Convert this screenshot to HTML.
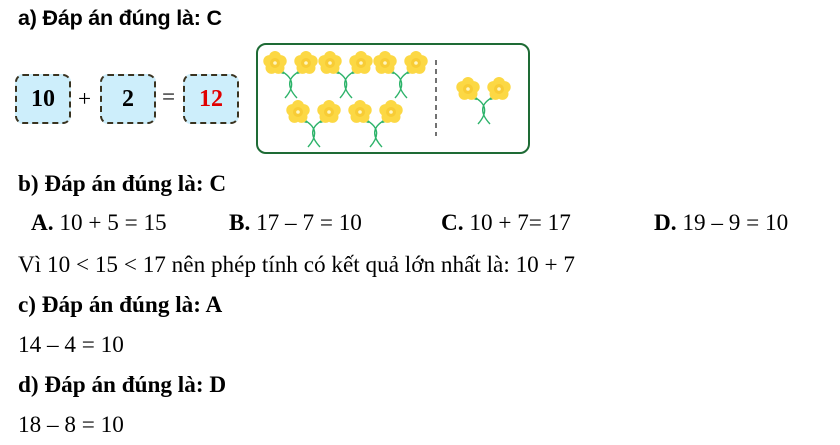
<!DOCTYPE html>
<html><head><meta charset="utf-8"><style>
body{margin:0;width:840px;height:445px;background:#fff;position:relative;overflow:hidden;font-family:"Liberation Serif",serif;font-size:23.2px;color:#000}
.t{position:absolute;white-space:nowrap;line-height:1}
.box{position:absolute;width:56px;height:50px;border:2px dashed #3a3320;border-radius:8px;background:#cdeefb;box-sizing:border-box;font-weight:bold;font-size:24px;display:flex;align-items:center;justify-content:center}
</style></head><body>
<div class="t" style="left:18px;top:8px;font-family:'Liberation Sans',sans-serif;font-weight:bold;font-size:21.5px;letter-spacing:-0.2px">a) Đáp án đúng là: C</div>
<div class="box" style="left:15px;top:74px">10</div>
<div class="t" style="left:78px;top:88px">+</div>
<div class="box" style="left:100px;top:74px">2</div>
<div class="t" style="left:162px;top:86px">=</div>
<div class="box" style="left:183px;top:74px;color:#e00000">12</div>
<svg style="position:absolute;left:0;top:0" width="840" height="445">
<defs>
<g id="fl"><circle cx="0" cy="-6" r="6" fill="#fcd844"/><circle cx="5.7" cy="-1.9" r="6" fill="#fcd844"/><circle cx="3.5" cy="4.9" r="6" fill="#fcd844"/><circle cx="-3.5" cy="4.9" r="6" fill="#fcd844"/><circle cx="-5.7" cy="-1.9" r="6" fill="#fcd844"/><circle r="5" fill="#f8cc35"/><circle r="1.8" fill="#fff6c0"/></g>
<g id="pr">
<path d="M21 23 Q40 33 25 50 M40 23 Q21 33 37 50" fill="none" stroke="#2db36a" stroke-width="1.4"/>
<path d="M24 25 l-3 -1 M37 25 l3 -1" stroke="#2db36a" stroke-width="2.5"/>
<use href="#fl" x="15" y="15"/><use href="#fl" x="46" y="15"/>
</g>
</defs>
<rect x="257" y="44" width="272" height="109" rx="9" fill="none" stroke="#1e6b35" stroke-width="2"/>
<use href="#pr" x="260" y="48"/>
<use href="#pr" x="315" y="48"/>
<use href="#pr" x="370" y="48"/>
<use href="#pr" x="283" y="97"/>
<use href="#pr" x="345" y="97"/>
<use href="#pr" x="453" y="74"/>
<line x1="436" y1="60" x2="436" y2="136" stroke="#444" stroke-width="1.5" stroke-dasharray="5,4"/>
</svg>
<div class="t" style="left:18px;top:173px;font-weight:bold">b) Đáp án đúng là: C</div>
<div class="t" style="left:31px;top:212px"><b>A.</b> 10 + 5 = 15</div>
<div class="t" style="left:229px;top:212px"><b>B.</b> 17 – 7 = 10</div>
<div class="t" style="left:441px;top:212px"><b>C.</b> 10 + 7= 17</div>
<div class="t" style="left:654px;top:212px"><b>D.</b> 19 – 9 = 10</div>
<div class="t" style="left:18px;top:254px">Vì 10 &lt; 15 &lt; 17 nên phép tính có kết quả lớn nhất là: 10 + 7</div>
<div class="t" style="left:18px;top:294px;font-weight:bold">c) Đáp án đúng là: A</div>
<div class="t" style="left:18px;top:334px">14 – 4 = 10</div>
<div class="t" style="left:18px;top:374px;font-weight:bold">d) Đáp án đúng là: D</div>
<div class="t" style="left:18px;top:414px">18 – 8 = 10</div>
</body></html>
